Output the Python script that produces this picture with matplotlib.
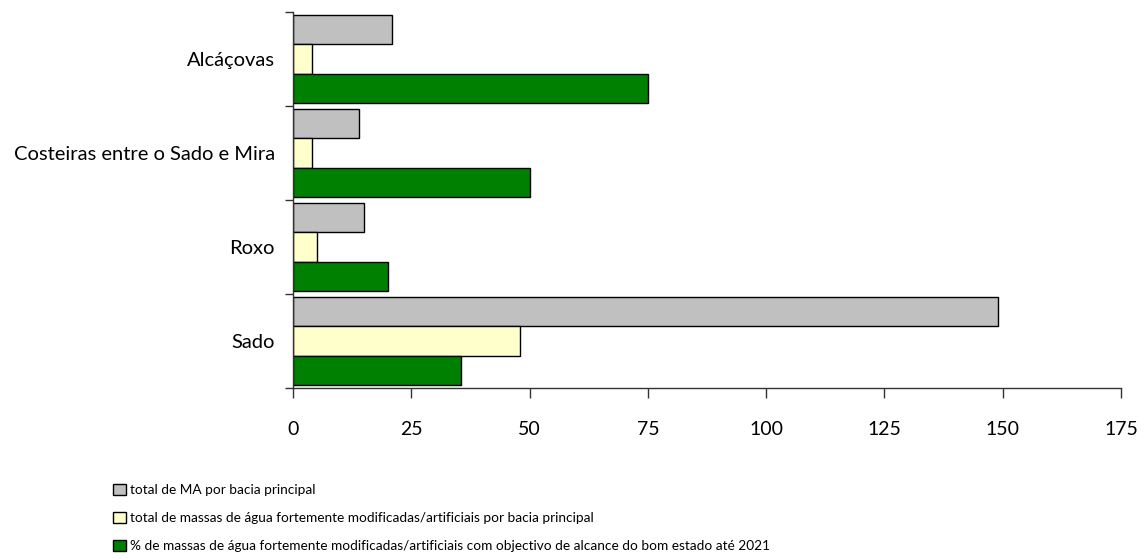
import matplotlib
matplotlib.use("Agg")
import matplotlib.pyplot as plt
import numpy as np

plt.rcParams['font.family'] = ['Lato', 'DejaVu Sans']

categories = ["Alcáçovas", "Costeiras entre o Sado e Mira", "Roxo", "Sado"]
total_ma = [21, 14, 15, 149]
total_fmod = [4, 4, 5, 48]
pct_bom_estado = [75, 50, 20, 35.5]

series_labels = [
    "total de MA por bacia principal",
    "total de massas de água fortemente modificadas/artificiais por bacia principal",
    "% de massas de água fortemente modificadas/artificiais com objectivo de alcance do bom estado até 2021",
]
series_colors = ["#C0C0C0", "#FFFFCC", "#008000"]
x_ticks = [0, 25, 50, 75, 100, 125, 150, 175]

fig = plt.figure(figsize=(11.44, 5.59), dpi=100)
ax = fig.add_axes([0.2561, 0.306, 0.7238, 0.6725])

n = len(categories)
# first category at the top
pos = np.arange(n)[::-1].astype(float)
h = 0.312
series = [total_ma, total_fmod, pct_bom_estado]
handles = []
for i, (vals, col, lab) in enumerate(zip(series, series_colors, series_labels)):
    y = pos + (1 - i) * h
    b = ax.barh(y, vals, height=h, color=col, edgecolor="black", linewidth=1.0, label=lab)
    handles.append(b)

ax.set_xlim(0, 175)
ax.set_ylim(-0.5, n - 0.5)
ax.set_xticks(x_ticks)
ax.set_xticklabels([str(t) for t in x_ticks], fontsize=14)
ax.tick_params(axis='x', direction='out', length=7, width=1, pad=17, color="#333333")

# category boundaries as major ticks, labels on minor ticks
ax.set_yticks(np.arange(-0.5, n, 1.0))
ax.set_yticklabels([])
ax.set_yticks(pos, minor=True)
ax.set_yticklabels(categories, minor=True, fontsize=14.5)
ax.tick_params(axis='y', which='major', direction='out', length=6, width=1, color="#333333")
ax.tick_params(axis='y', which='minor', length=0, pad=13)

for s in ["top", "right"]:
    ax.spines[s].set_visible(False)
for s in ["left", "bottom"]:
    ax.spines[s].set_color("#333333")
    ax.spines[s].set_linewidth(1)

fig.legend(handles=handles, labels=series_labels, loc="upper left",
           bbox_to_anchor=(0.099, 0.134), frameon=False, fontsize=9.8,
           handlelength=0.9, handleheight=0.9, handletextpad=0.35,
           labelspacing=1.15, borderaxespad=0, borderpad=0)

fig.savefig("out.png", dpi=100)
